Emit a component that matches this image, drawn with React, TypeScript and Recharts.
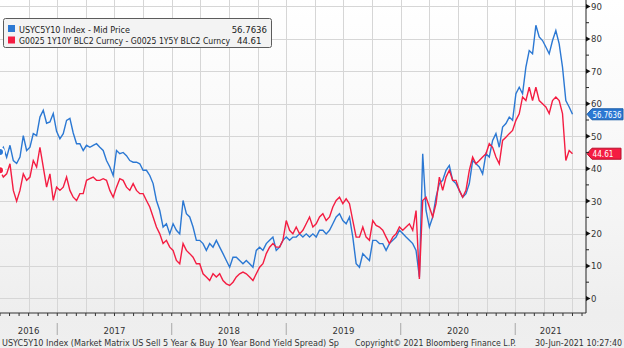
import { LineChart, Line, XAxis, YAxis, ReferenceLine, CartesianGrid } from "recharts";

// USYC5Y10 Index - Mid Price (about every 10-11 days, 30-Jun-2016 .. 30-Jun-2021)
const usyc5y10 = [
  45.1, 46.6, 43.5, 47.2, 42.5, 41.6, 43.6, 50.2, 45.6, 46.6,
  50.8, 50.2, 55.9, 58.0, 54.0, 54.4, 57.0, 51.5, 49.2, 50.8,
  54.9, 55.5, 51.0, 47.7, 47.7, 45.6, 47.2, 46.6, 47.2, 47.7,
  46.6, 45.6, 42.5, 40.5, 37.9, 45.6, 44.6, 45.0, 44.0, 42.5,
  42.0, 42.0, 41.5, 39.5, 39.5, 37.9, 35.4, 30.2, 27.1, 22.0,
  23.0, 19.9, 23.0, 21.0, 19.9, 30.2, 26.1, 25.1, 22.0, 17.9,
  17.9,
  16.9, 14.8, 16.9, 15.8, 17.9, 15.8, 13.8, 11.7, 9.6, 12.7,
  12.7, 11.7, 10.7, 11.7, 10.7, 9.6, 14.8, 15.8, 14.8, 16.9,
  17.9, 18.9, 14.8, 15.8, 17.9, 18.9, 17.9, 18.9, 18.9, 19.9,
  18.9, 19.9, 18.9, 19.9, 18.9, 21.0, 21.0, 19.9, 21.0, 23.0,
  25.1, 26.1, 24.0, 23.0, 25.1, 18.9, 10.7, 9.6, 13.8, 12.7,
  11.7, 17.9, 17.9, 16.9,
  16.9, 14.8, 16.9, 17.9, 18.9, 21.0, 20.0, 18.9, 17.9, 16.9,
  14.8, 6.6, 44.6, 27.1, 22.0, 25.1, 31.2, 35.4, 36.4, 39.5,
  41.0, 36.4, 35.4, 33.3, 31.2, 32.3, 35.4, 42.5, 41.5, 40.5,
  38.4, 44.6, 43.6, 48.7, 50.8, 46.6, 52.8, 53.9, 55.9, 54.9,
  63.1, 65.1, 63.1, 71.3, 76.4, 75.4, 84.2, 80.6, 79.5, 77.5,
  75.4, 79.5, 82.6, 78.5, 71.3, 61.0, 59.0, 56.7636,
];

// G0025 1Y10Y BLC2 Curncy - G0025 1Y5Y BLC2 Curncy
const g0025 = [
  39.5, 37.4, 38.4, 41.5, 33.3, 30.0, 33.3, 38.4, 36.4, 37.4,
  42.5, 40.5, 46.6, 40.5, 34.3, 38.4, 30.2, 34.3, 33.3, 34.3,
  37.4, 33.3, 31.2, 30.2, 32.3, 32.3, 36.4, 36.9, 37.4, 36.4,
  36.4, 36.9, 36.4, 33.3, 31.2, 34.3, 36.9, 36.4, 34.3, 33.3,
  35.4, 33.3, 32.3, 32.3, 30.2, 28.2, 25.1, 22.0, 19.9, 16.9,
  17.9, 15.8, 14.8, 11.7, 10.7, 16.9, 14.8, 13.8, 12.7, 10.7,
  10.7,
  7.6, 6.6, 5.5, 7.6, 6.6, 7.6, 5.5, 4.5, 4.0, 5.0,
  6.6, 7.6, 8.1, 7.6, 6.6, 5.5, 7.6, 9.6, 10.7, 13.8,
  15.8, 16.9, 15.8, 15.8, 17.9, 24.0, 21.0, 19.9, 22.0, 19.9,
  21.0, 23.0, 25.1, 22.0, 23.0, 25.1, 26.1, 24.0, 25.1, 28.2,
  30.2, 31.2, 29.2, 30.7, 29.2, 24.0, 18.9, 18.9, 22.0, 18.9,
  17.9, 24.0, 22.5, 22.0,
  21.0, 18.9, 16.9, 18.9, 19.9, 22.0, 21.0, 22.0, 23.0, 21.0,
  27.1, 6.0, 30.2, 31.2, 28.2, 25.1, 29.2, 37.4, 33.3, 37.4,
  39.5, 36.4, 36.4, 33.3, 31.2, 33.3, 39.5, 43.6, 41.5, 42.5,
  43.6, 44.6, 47.7, 46.6, 43.6, 41.5, 48.7, 49.7, 50.8, 51.8,
  54.9, 56.9, 62.1, 61.0, 65.1, 61.0, 65.1, 61.0, 60.0, 59.0,
  57.0, 61.0, 62.1, 61.0, 57.0, 42.5, 45.6, 44.61,
];

const START = 2016.5; // 30-Jun-2016
const END = 2021.5; // 30-Jun-2021
const X_MAX = 2021.618;
const times = usyc5y10.map((_, i) => START + (i * (END - START)) / (usyc5y10.length - 1));

const yearLabels = ["2016", "2017", "2018", "2019", "2020", "2021"];
const yearLabelPos = [2016.75, 2017.5, 2018.5, 2019.5, 2020.5, 2021.31];
const yTicks = [0, 5, 10, 15, 20, 25, 30, 35, 40, 45, 50, 55, 60, 65, 70, 75, 80, 85, 90];
const gridY = [0, 10, 20, 30, 40, 50, 60, 70, 80, 90];

const BLUE = "#2b78d3";
const RED = "#f41d42";
const GRID = "#d6d6d6";
const FONT = "'DejaVu Sans Condensed', 'DejaVu Sans', sans-serif";

const data = times.map((t, i) => ({ t, usyc: usyc5y10[i], g0025: g0025[i] }));

const monthTicks: number[] = [];
const quarterTicks: number[] = [];
for (let y = 2016; y <= 2021; y++) {
  for (let m = 0; m < 12; m++) {
    const v = y + m / 12;
    if (v < START || v > X_MAX) continue;
    monthTicks.push(v);
    if (m % 3 === 0 && v > START) quarterTicks.push(v);
  }
}
const xTicks = Array.from(new Set([...monthTicks, ...yearLabelPos])).sort((a, b) => a - b);

const near = (a: number, b: number) => Math.abs(a - b) < 1e-6;

const scaleOf = (axis: any) => {
  const s = axis && axis.scale;
  if (typeof s === "function") return s;
  if (s && typeof s.map === "function") return (v: number) => s.map(v);
  return null;
};

function XTick({ x, y, payload }: any) {
  const v = payload.value;
  const isMonth = near(v * 12, Math.round(v * 12));
  const isYear = near(v, Math.round(v));
  const li = yearLabelPos.findIndex((p) => near(p, v));
  return (
    <g>
      {isMonth && <line x1={x} x2={x} y1={y} y2={y + 3} stroke="#333" />}
      {isYear && <line x1={x} x2={x} y1={y + 10} y2={y + 22} stroke="#a8a8a8" />}
      {li >= 0 && (
        <text x={x} y={y + 21} textAnchor="middle" fontSize={9.5} fontFamily={FONT} fill="#333">
          {yearLabels[li]}
        </text>
      )}
    </g>
  );
}

function YTick({ x, y, payload }: any) {
  const v = payload.value;
  if (v % 10 !== 0) {
    return <line x1={x} x2={x + 3} y1={y} y2={y} stroke="#222" />;
  }
  return (
    <g>
      <polygon points={`${x},${y - 2.5} ${x + 4.5},${y} ${x},${y + 2.5}`} fill="#111" />
      <text x={x + 5} y={y + 3.5} fontSize={9.5} fontFamily={FONT} fill="#333">
        {v}
      </text>
    </g>
  );
}

function Tag({ viewBox, text, fill, stroke, w, tw }: any) {
  const x0 = viewBox.x + viewBox.width + 1;
  const y = viewBox.y;
  const h = 5.5;
  return (
    <g>
      <polygon
        points={`${x0},${y} ${x0 + 5},${y - h} ${x0 + w},${y - h} ${x0 + w},${y + h} ${x0 + 5},${y + h}`}
        fill={fill}
        stroke={stroke}
      />
      <text
        x={x0 + 5.5}
        y={y + 3.3}
        fontSize={8.5}
        fontFamily={FONT}
        fill="#fff"
        textLength={tw}
        lengthAdjust="spacingAndGlyphs"
      >
        {text}
      </text>
    </g>
  );
}

// grid line, drawn through the reference line's own coordinates
function GridMark({ viewBox }: any) {
  const { x, y, width, height } = viewBox;
  const x1 = Math.round(x) + 0.5;
  const y1 = Math.round(y) + 0.5;
  return (
    <line
      x1={x1}
      y1={y1}
      x2={width ? Math.round(x + width) + 0.5 : x1}
      y2={height ? Math.round(y + height) + 0.5 : y1}
      stroke={GRID}
      strokeWidth={1}
    />
  );
}

export default function App() {
  const lastBlue = usyc5y10[usyc5y10.length - 1];
  const lastRed = g0025[g0025.length - 1];
  return (
    <div
      style={{
        position: "relative",
        width: 624,
        height: 348,
        background: "linear-gradient(to bottom, #ffffff 0%, #f5f5f5 60%, #eeeeee 90%, #efefef 100%)",
      }}
    >
      <style>{`body{margin:0}`}</style>
      <LineChart width={624} height={348} data={data} margin={{ top: 0, right: 0, bottom: 0, left: 0 }}>
        <CartesianGrid
          stroke={GRID}
          horizontalCoordinatesGenerator={({ yAxis }: any) => {
            const s = scaleOf(yAxis);
            return s ? gridY.map((v) => Math.round(s(v)) + 0.5) : [];
          }}
          verticalCoordinatesGenerator={({ xAxis }: any) => {
            const s = scaleOf(xAxis);
            return s ? quarterTicks.map((v) => Math.round(s(v)) + 0.5) : [];
          }}
        />
        <XAxis
          dataKey="t"
          type="number"
          domain={[START, X_MAX]}
          allowDataOverflow
          ticks={xTicks}
          interval={0}
          height={35}
          tickSize={0}
          tickMargin={0}
          tickLine={false}
          axisLine={{ stroke: "#333" }}
          tick={<XTick />}
        />
        <YAxis
          orientation="right"
          domain={[-4.5, 92]}
          allowDataOverflow
          ticks={yTicks}
          interval={0}
          width={38}
          tickSize={0}
          tickMargin={0}
          tickLine={false}
          axisLine={{ stroke: "#222" }}
          tick={<YTick />}
        />
        {gridY.map((v) => (
          <ReferenceLine key={`gy${v}`} y={v} stroke="none" label={<GridMark />} />
        ))}
        {quarterTicks.map((v) => (
          <ReferenceLine key={`gx${v}`} x={v} stroke="none" label={<GridMark />} />
        ))}
        <Line
          dataKey="usyc"
          stroke={BLUE}
          strokeWidth={1.4}
          dot={false}
          type="linear"
          isAnimationActive={false}
        />
        <Line
          dataKey="g0025"
          stroke={RED}
          strokeWidth={1.4}
          dot={false}
          type="linear"
          isAnimationActive={false}
        />
        <ReferenceLine
          y={lastBlue}
          stroke="none"
          label={<Tag text={String(lastBlue)} fill={BLUE} stroke="#1c5ea8" w={36} tw={29} />}
        />
        <ReferenceLine
          y={lastRed}
          stroke="none"
          label={<Tag text={String(lastRed)} fill={RED} stroke="#b8102c" w={34} tw={21} />}
        />
      </LineChart>
      <svg
        width={624}
        height={348}
        style={{ position: "absolute", left: 0, top: 0, pointerEvents: "none" }}
        fontFamily={FONT}
      >
        <rect x={3.5} y={18.5} width={268} height={29} rx={2} fill="#f3f3f3" stroke="#5c5c5c" />
        <rect x={8} y={25} width={7} height={7} fill={BLUE} />
        <rect x={8} y={36.5} width={7} height={7} fill={RED} />
        <text x={19} y={32.5} fontSize={9.5} fill="#222" textLength={111} lengthAdjust="spacingAndGlyphs">
          USYC5Y10 Index - Mid Price
        </text>
        <text x={267} y={32.5} fontSize={9.5} fill="#222" textAnchor="end">
          {lastBlue}
        </text>
        <text x={19} y={44} fontSize={9.5} fill="#222" textLength={211} lengthAdjust="spacingAndGlyphs">
          G0025 1Y10Y BLC2 Curncy - G0025 1Y5Y BLC2 Curncy
        </text>
        <text x={237} y={44} fontSize={9.5} fill="#222">
          {lastRed}
        </text>
        <text x={2} y={346} fontSize={9} fill="#333" textLength={337} lengthAdjust="spacingAndGlyphs">
          USYC5Y10 Index (Market Matrix US Sell 5 Year &amp; Buy 10 Year Bond Yield Spread) Sp
        </text>
        <text x={355} y={346} fontSize={9} fill="#333" textLength={161} lengthAdjust="spacingAndGlyphs">
          Copyright© 2021 Bloomberg Finance L.P.
        </text>
        <text x={535} y={346} fontSize={9} fill="#333" textLength={87} lengthAdjust="spacingAndGlyphs">
          30-Jun-2021 10:27:40
        </text>
      </svg>
    </div>
  );
}
